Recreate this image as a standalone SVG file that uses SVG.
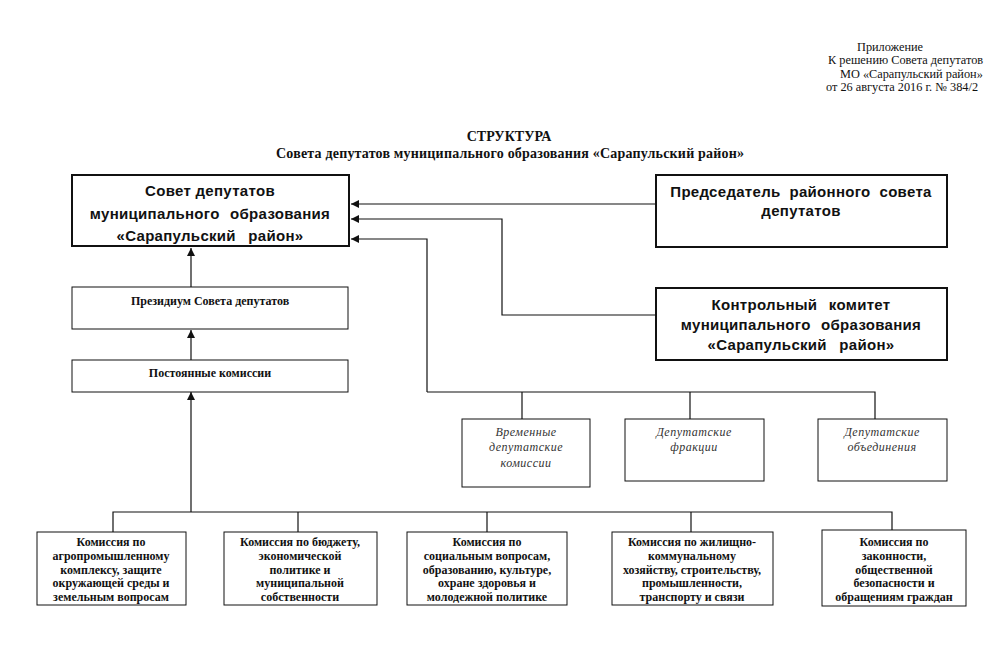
<svg xmlns="http://www.w3.org/2000/svg" width="1002" height="665" viewBox="0 0 1002 665">
<style>
.hdr{font-family:"Liberation Serif",serif;font-size:12.3px;fill:#111}
.ttl{font-family:"Liberation Serif",serif;font-size:14px;font-weight:bold;fill:#111;text-anchor:middle}
.big{font-family:"Liberation Sans",Arial,sans-serif;font-size:15px;font-weight:bold;fill:#111;text-anchor:middle;letter-spacing:0.3px}
.thick{fill:#fff;stroke:#111;stroke-width:2}
.thin{fill:#fff;stroke:#111;stroke-width:1}
.sm{font-family:"Liberation Serif",serif;font-size:12px;font-weight:bold;fill:#111;text-anchor:middle}
.it{font-family:"Liberation Serif",serif;font-size:12px;font-style:italic;fill:#333;text-anchor:middle;letter-spacing:0.5px}
.ln{fill:none;stroke:#111;stroke-width:1.2}
</style>
<defs>
<marker id="ah" viewBox="0 0 10 10" refX="10" refY="5" markerWidth="8" markerHeight="8" markerUnits="userSpaceOnUse" orient="auto">
<path d="M0,0 L10,5 L0,10 z" fill="#111"/>
</marker>
</defs>
<rect width="1002" height="665" fill="#fff"/>
<g id="header">
<text class="hdr" x="857" y="51">Приложение</text>
<text class="hdr" x="828" y="64">К решению Совета депутатов</text>
<text class="hdr" x="840" y="78">МО «Сарапульский район»</text>
<text class="hdr" x="826" y="91">от 26 августа 2016 г. №  384/2</text>
</g>
<g id="title">
<text class="ttl" x="509" y="141">СТРУКТУРА</text>
<text class="ttl" x="510" y="158" textLength="468" lengthAdjust="spacing">Совета депутатов  муниципального  образования «Сарапульский  район»</text>
</g>
<g id="connectors">
<path class="ln" d="M656,204 H351" marker-end="url(#ah)"/>
<path class="ln" d="M656,315 H502 V219 H351" marker-end="url(#ah)"/>
<path class="ln" d="M427,392 V239 H351" marker-end="url(#ah)"/>
<path class="ln" d="M427,392 H875 V419"/>
<path class="ln" d="M522,392 V419"/>
<path class="ln" d="M690,392 V419"/>
<path class="ln" d="M191,287 V248" marker-end="url(#ah)"/>
<path class="ln" d="M191,360 V330" marker-end="url(#ah)"/>
<path class="ln" d="M191,512 V392" marker-end="url(#ah)"/>
<path class="ln" d="M113,532 V512 H892 V530"/>
<path class="ln" d="M298,512 V532"/>
<path class="ln" d="M487,512 V532"/>
<path class="ln" d="M691,512 V532"/>
</g>
<g id="sovet">
<rect class="thick" x="72" y="175" width="277" height="71"/>
<text class="big" x="210" y="196">Совет депутатов</text>
<text class="big" x="210" y="219" style="word-spacing:6px">муниципального образования</text>
<text class="big" x="210" y="241" style="word-spacing:8px">«Сарапульский район»</text>
</g>
<g id="predsedatel">
<rect class="thick" x="656" y="175" width="291" height="72"/>
<text class="big" x="801" y="197" style="word-spacing:4.5px">Председатель районного совета</text>
<text class="big" x="801" y="216">депутатов</text>
</g>
<g id="kontrol">
<rect class="thick" x="656" y="288" width="291" height="72"/>
<text class="big" x="801" y="310" style="word-spacing:7px">Контрольный комитет</text>
<text class="big" x="801" y="330" style="word-spacing:6px">муниципального образования</text>
<text class="big" x="801" y="350" style="word-spacing:8px">«Сарапульский район»</text>
</g>
<g id="prezidium">
<rect class="thin" x="72" y="287" width="276" height="42"/>
<text class="sm" x="210" y="305">Президиум Совета депутатов</text>
</g>
<g id="postoyannye">
<rect class="thin" x="72" y="360" width="276" height="32"/>
<text class="sm" x="210" y="377">Постоянные комиссии</text>
</g>
<g id="vremennye">
<rect class="thin" x="462" y="419" width="128" height="68"/>
<text class="it" x="526" y="436">Временные</text>
<text class="it" x="526" y="451">депутатские</text>
<text class="it" x="526" y="467">комиссии</text>
</g>
<g id="fraktsii">
<rect class="thin" x="625" y="419" width="139" height="62"/>
<text class="it" x="694" y="436">Депутатские</text>
<text class="it" x="694" y="451">фракции</text>
</g>
<g id="obedineniya">
<rect class="thin" x="818" y="419" width="129" height="62"/>
<text class="it" x="882" y="436">Депутатские</text>
<text class="it" x="882" y="451">объединения</text>
</g>
<g id="k1">
<rect class="thin" x="37" y="532" width="149" height="73"/>
<text class="sm" x="111" y="546">Комиссия по</text>
<text class="sm" x="111" y="560">агропромышленному</text>
<text class="sm" x="111" y="574">комплексу, защите</text>
<text class="sm" x="111" y="587">окружающей среды и</text>
<text class="sm" x="111" y="601">земельным вопросам</text>
</g>
<g id="k2">
<rect class="thin" x="224" y="532" width="153" height="73"/>
<text class="sm" x="300" y="546">Комиссия по бюджету,</text>
<text class="sm" x="300" y="560">экономической</text>
<text class="sm" x="300" y="574">политике и</text>
<text class="sm" x="300" y="587">муниципальной</text>
<text class="sm" x="300" y="601">собственности</text>
</g>
<g id="k3">
<rect class="thin" x="407" y="532" width="160" height="73"/>
<text class="sm" x="487" y="546">Комиссия по</text>
<text class="sm" x="487" y="560">социальным вопросам,</text>
<text class="sm" x="487" y="574">образованию, культуре,</text>
<text class="sm" x="487" y="587">охране здоровья и</text>
<text class="sm" x="487" y="601">молодежной политике</text>
</g>
<g id="k4">
<rect class="thin" x="612" y="532" width="161" height="73"/>
<text class="sm" x="692" y="546">Комиссия по жилищно-</text>
<text class="sm" x="692" y="560">коммунальному</text>
<text class="sm" x="692" y="574">хозяйству, строительству,</text>
<text class="sm" x="692" y="587">промышленности,</text>
<text class="sm" x="692" y="601">транспорту и связи</text>
</g>
<g id="k5">
<rect class="thin" x="822" y="530" width="144" height="76"/>
<text class="sm" x="894" y="546">Комиссия по</text>
<text class="sm" x="894" y="560">законности,</text>
<text class="sm" x="894" y="574">общественной</text>
<text class="sm" x="894" y="587">безопасности и</text>
<text class="sm" x="894" y="601">обращениям граждан</text>
</g>
</svg>
